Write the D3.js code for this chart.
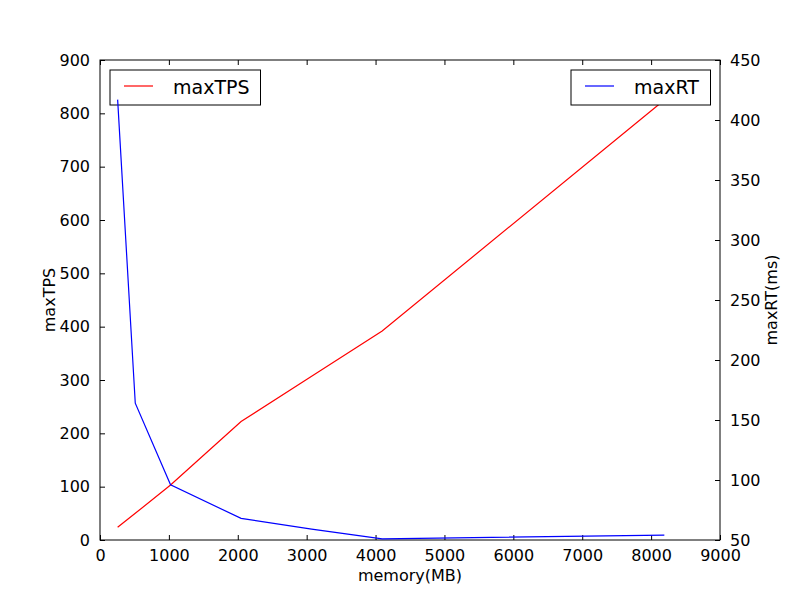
<!DOCTYPE html>
<html>
<head>
<meta charset="utf-8">
<script src="https://cdn.jsdelivr.net/npm/d3@7"></script>
<style>
  body { margin: 0; background: #fff; }
  text { font-family: "DejaVu Sans", sans-serif; fill: #000; }
</style>
</head>
<body>
<svg id="chart" width="800" height="600"></svg>
<script>
// data
var memory = [256, 512, 1024, 2048, 3072, 4096, 8192];
var maxTPS = [24, 50, 103, 222, 307, 392, 825];
var maxRT = [417, 164, 96, 68, 59, 51, 54];
var xTicks = [0, 1000, 2000, 3000, 4000, 5000, 6000, 7000, 8000, 9000];
var tpsTicks = [0, 100, 200, 300, 400, 500, 600, 700, 800, 900];
var rtTicks = [50, 100, 150, 200, 250, 300, 350, 400, 450];

var L = 100, R = 720, T = 60, B = 540;
var svg = d3.select("#chart");

var x = d3.scaleLinear().domain([0, 9000]).range([L, R]);
var y1 = d3.scaleLinear().domain([0, 900]).range([B, T]);
var y2 = d3.scaleLinear().domain([50, 450]).range([B, T]);

var tpsData = memory.map((m, i) => ({ m: m, v: maxTPS[i] }));
var rtData = memory.map((m, i) => ({ m: m, v: maxRT[i] }));

// ticks pointing inward, matplotlib classic look
function styleAxis(g) {
    g.select(".domain").remove();
    g.selectAll(".tick line").attr("stroke", "#000").attr("stroke-width", 1);
    g.selectAll(".tick text").attr("font-size", "16px").attr("fill", "#000")
        .attr("font-family", "DejaVu Sans, sans-serif");
}

svg.append("g")
    .attr("transform", `translate(0,${B})`)
    .call(d3.axisBottom(x).tickValues(xTicks).tickFormat(d3.format("d")).tickSizeInner(-5).tickPadding(10))
    .call(styleAxis);

svg.append("g")
    .attr("transform", `translate(0,${T})`)
    .call(d3.axisTop(x).tickValues(xTicks).tickSizeInner(-5).tickFormat(""))
    .call(styleAxis);

svg.append("g")
    .attr("transform", `translate(${L},0)`)
    .call(d3.axisLeft(y1).tickValues(tpsTicks).tickFormat(d3.format("d")).tickSizeInner(-5).tickPadding(10))
    .call(styleAxis);

svg.append("g")
    .attr("transform", `translate(${R},0)`)
    .call(d3.axisRight(y2).tickValues(rtTicks).tickFormat(d3.format("d")).tickSizeInner(-5).tickPadding(10))
    .call(styleAxis);

// frame
svg.append("rect")
    .attr("x", L).attr("y", T).attr("width", R - L).attr("height", B - T)
    .attr("fill", "none").attr("stroke", "#000").attr("stroke-width", 1);

// red line (first axes)
var line1 = d3.line().x(d => x(d.m)).y(d => y1(d.v));
svg.append("path")
    .datum(tpsData)
    .attr("d", line1)
    .attr("fill", "none").attr("stroke", "#ff0000").attr("stroke-width", 1.2);

function legend(bx, by, w, label, color) {
    var g = svg.append("g");
    g.append("rect")
        .attr("x", bx).attr("y", by).attr("width", w).attr("height", 35)
        .attr("fill", "#fff").attr("stroke", "#000").attr("stroke-width", 1);
    g.append("line")
        .attr("x1", bx + 14).attr("x2", bx + 43)
        .attr("y1", by + 16).attr("y2", by + 16)
        .attr("stroke", color).attr("stroke-width", 1.2);
    g.append("text")
        .attr("x", bx + 63).attr("y", by + 23.5)
        .attr("font-size", "19px")
        .text(label);
}

legend(110, 70, 150.5, "maxTPS", "#ff0000");

// blue line (twin axes), drawn above the first legend
var line2 = d3.line().x(d => x(d.m)).y(d => y2(d.v));
svg.append("path")
    .datum(rtData)
    .attr("d", line2)
    .attr("fill", "none").attr("stroke", "#0000ff").attr("stroke-width", 1.2);

legend(571, 70, 139.5, "maxRT", "#0000ff");

// axis labels
svg.append("text")
    .attr("x", (L + R) / 2).attr("y", 581)
    .attr("text-anchor", "middle").attr("font-size", "16px")
    .text("memory(MB)");

svg.append("text")
    .attr("transform", `translate(55,${(T + B) / 2}) rotate(-90)`)
    .attr("text-anchor", "middle").attr("font-size", "16px")
    .text("maxTPS");

svg.append("text")
    .attr("transform", `translate(777,${(T + B) / 2}) rotate(-90)`)
    .attr("text-anchor", "middle").attr("font-size", "16px")
    .text("maxRT(ms)");
</script>
</body>
</html>
